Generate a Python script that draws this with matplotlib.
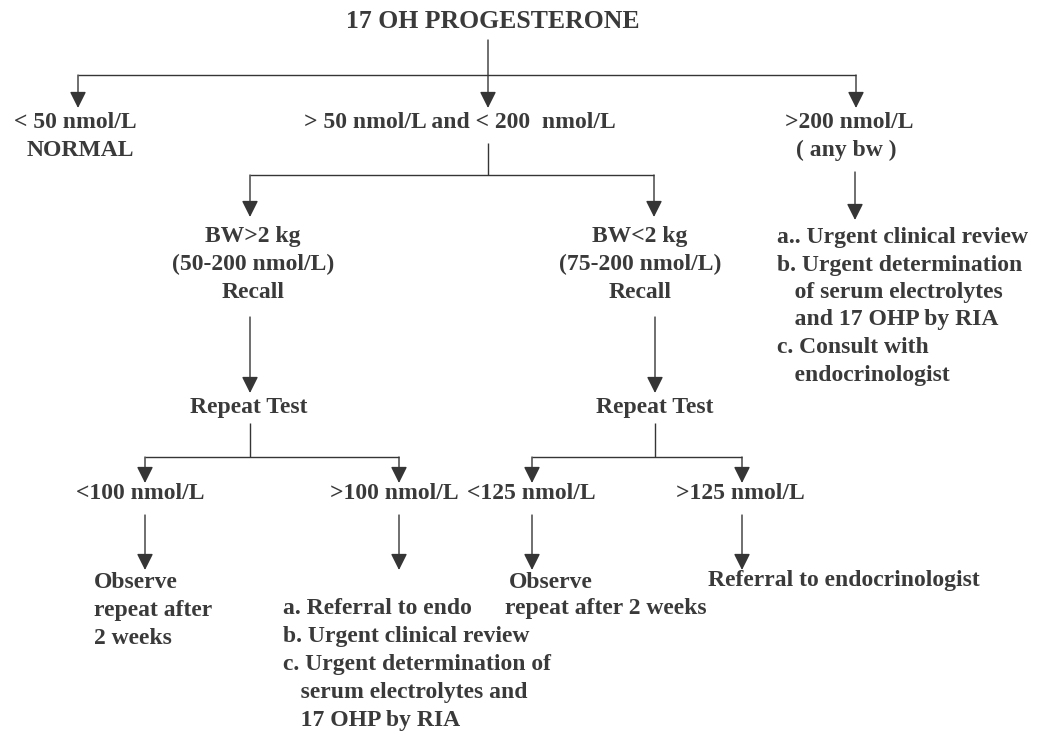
import matplotlib
matplotlib.use('Agg')
import matplotlib.pyplot as plt

# ---- flowchart text ----
title = '17 OH PROGESTERONE'
first_split = [['< 50 nmol/L', 'NORMAL'],
               ['> 50 nmol/L and < 200  nmol/L'],
               ['>200 nmol/L', '( any bw )']]
high_actions = ['a.. Urgent clinical review', 'b. Urgent determination',
                '   of serum electrolytes', '   and 17 OHP by RIA',
                'c. Consult with', '   endocrinologist']
weight_groups = [['BW>2 kg', '(50-200 nmol/L)', 'Recall'],
                 ['BW<2 kg', '(75-200 nmol/L)', 'Recall']]
repeat_label = 'Repeat Test'
cutoffs = ['<100 nmol/L', '>100 nmol/L', '<125 nmol/L', '>125 nmol/L']
outcome_low_heavy = ['Observe', 'repeat after', '2 weeks']
outcome_high_heavy = ['a. Referral to endo', 'b. Urgent clinical review',
                      'c. Urgent determination of', '   serum electrolytes and',
                      '   17 OHP by RIA']
outcome_low_light = ['Observe', 'repeat after 2 weeks']
outcome_high_light = ['Referral to endocrinologist']

# ---- layout (pixel coordinates, y downward) ----
W, H = 1046, 731
INK = '#353535'
TXT = '#3a3a3a'
FONT = ['Liberation Serif', 'DejaVu Serif']
FS = 17

fig = plt.figure(figsize=(W / 100, H / 100), dpi=100)
ax = fig.add_axes([0, 0, 1, 1])
ax.set_xlim(0, W)
ax.set_ylim(H, 0)
ax.axis('off')


def put(lines, x, y, step=27.5, ha='center', size=FS):
    for i, s in enumerate(lines):
        ax.text(x, y + i * step + 6, s, ha=ha, va='baseline', fontsize=size,
                fontweight='bold', family=FONT, color=TXT)


def line(xs, ys):
    ax.plot(xs, ys, color=INK, lw=1.0, solid_capstyle='butt')


def arrow(x, y0, y1):
    ax.annotate('', xy=(x, y1), xytext=(x, y0),
                arrowprops=dict(arrowstyle='-|>,head_length=0.5,head_width=0.25',
                                mutation_scale=20, color=INK, lw=1.0,
                                shrinkA=0, shrinkB=0))


# title and first split
put([title], 493, 22, size=18.5)
arrow(488, 40, 108)
line([78, 856], [75, 75])
arrow(78, 75, 108)
arrow(856, 75, 108)
put(first_split[0][:1], 75, 122)
put(first_split[0][1:], 80, 150)
put(first_split[1], 460, 122)
put(first_split[2][:1], 849, 122)
put(first_split[2][1:], 846, 150)

# > 200 branch
arrow(855, 172, 220)
put(high_actions, 777, 237, step=27.5, ha='left')

# middle branch -> birth weight
line([488, 488], [143, 175])
line([250, 654], [175, 175])
arrow(250, 175, 217)
arrow(654, 175, 217)
put(weight_groups[0], 253, 236, step=28)
put(weight_groups[1], 640, 236, step=28)
arrow(250, 317, 393)
arrow(655, 317, 393)
put([repeat_label], 249, 407)
put([repeat_label], 655, 407)

# repeat-test splits
line([250, 250], [423, 457])
line([145, 399], [457, 457])
arrow(145, 457, 483)
arrow(399, 457, 483)
line([655, 655], [423, 457])
line([532, 742], [457, 457])
arrow(532, 457, 483)
arrow(742, 457, 483)

put([cutoffs[0]], 140, 493)
put([cutoffs[1]], 394, 493)
put([cutoffs[2]], 531, 493)
put([cutoffs[3]], 740, 493)

arrow(145, 515, 570)
arrow(399, 515, 570)
arrow(532, 515, 570)
arrow(742, 515, 570)

put(outcome_low_heavy, 94, 582, step=28, ha='left')
put(outcome_high_heavy, 283, 608, step=28, ha='left')
put(outcome_low_light[:1], 509, 582, ha='left')
put(outcome_low_light[1:], 505, 608, ha='left')
put(outcome_high_light, 708, 580, ha='left')

fig.savefig('out.png', dpi=100, facecolor='white')
